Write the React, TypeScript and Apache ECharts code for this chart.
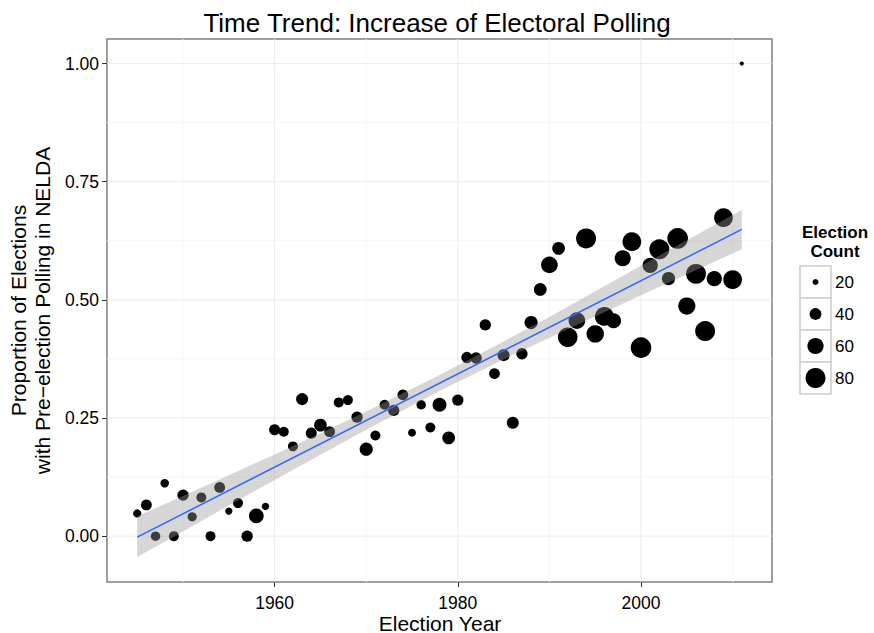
import React, { useEffect, useRef } from 'react';
import * as echarts from 'echarts';

const years = [
  1945, 1946, 1947, 1948, 1949, 1950, 1951, 1952, 1953, 1954, 1955, 1956, 1957, 1958, 1959,
  1960, 1961, 1962, 1963, 1964, 1965, 1966, 1967, 1968, 1969, 1970, 1971, 1972, 1973, 1974,
  1975, 1976, 1977, 1978, 1979, 1980, 1981, 1982, 1983, 1984, 1985, 1986, 1987, 1988, 1989,
  1990, 1991, 1992, 1993, 1994, 1995, 1996, 1997, 1998, 1999, 2000, 2001, 2002, 2003, 2004,
  2005, 2006, 2007, 2008, 2009, 2010, 2011,
];
const proportions = [
  0.048, 0.066, 0.0, 0.112, 0.0, 0.087, 0.041, 0.082, 0.0, 0.103, 0.053, 0.07, 0.0, 0.043, 0.063,
  0.225, 0.221, 0.19, 0.29, 0.218, 0.235, 0.221, 0.283, 0.288, 0.252, 0.184, 0.213, 0.278, 0.266, 0.299,
  0.219, 0.278, 0.23, 0.278, 0.208, 0.288, 0.378, 0.377, 0.447, 0.344, 0.383, 0.24, 0.386, 0.452, 0.522,
  0.574, 0.609, 0.421, 0.456, 0.63, 0.428, 0.465, 0.456, 0.588, 0.623, 0.399, 0.573, 0.607, 0.545, 0.63,
  0.487, 0.555, 0.434, 0.545, 0.674, 0.543, 1.0,
];
const electionCounts = [
  27, 36, 31, 28, 33, 38, 30, 33, 33, 36, 24, 33, 38, 53, 24,
  37, 33, 33, 41, 37, 44, 36, 33, 33, 38, 46, 33, 33, 38, 36,
  26, 31, 33, 49, 44, 38, 38, 38, 38, 36, 41, 41, 38, 46, 44,
  62, 44, 78, 62, 80, 66, 74, 54, 59, 73, 84, 55, 80, 46, 84,
  65, 80, 80, 55, 73, 73, 15,
];

const fitYears = [1945, 2011];
const fitValues = [-0.002, 0.649];
const ribbonYears = [1945, 1950, 1955, 1960, 1965, 1970, 1978, 1985, 1990, 1995, 2000, 2005, 2011];
const ribbonLower = [-0.044, 0.01, 0.065, 0.119, 0.172, 0.225, 0.307, 0.374, 0.42, 0.465, 0.51, 0.554, 0.607];
const ribbonUpper = [0.042, 0.085, 0.129, 0.173, 0.218, 0.264, 0.341, 0.412, 0.464, 0.518, 0.572, 0.626, 0.69];

const xMajorTicks = [1960, 1980, 2000];
const xMinorTicks = [1950, 1970, 1990, 2010];
const yMajorTicks = [0, 0.25, 0.5, 0.75, 1.0];
const yMinorTicks = [0.125, 0.375, 0.625, 0.875];
const legendCounts = [20, 40, 60, 80];

const FONT = '"Liberation Sans", Arial, Helvetica, sans-serif';

function pointDiameter(count: number): number {
  return Math.max(3, 3.13 * Math.sqrt(count) - 8);
}

function gridLineSeries(values: number[], vertical: boolean, color: string, width: number) {
  return {
    type: 'custom',
    silent: true,
    z: 0,
    data: values.map((v) => (vertical ? [v, 0.5] : [1980, v])),
    renderItem: (params: any, api: any) => {
      const cs = params.coordSys;
      const p = api.coord([api.value(0), api.value(1)]);
      const shape = vertical
        ? { x1: p[0], y1: cs.y, x2: p[0], y2: cs.y + cs.height }
        : { x1: cs.x, y1: p[1], x2: cs.x + cs.width, y2: p[1] };
      return { type: 'line', shape, style: { stroke: color, lineWidth: width } };
    },
  };
}

export default function App() {
  const ref = useRef<HTMLDivElement>(null);

  useEffect(() => {
    if (!ref.current) return;
    const chart = echarts.init(ref.current, undefined, { renderer: 'svg' });

    const scatterData = years.map((y, i) => [y, proportions[i], electionCounts[i]]);
    const fitData = fitYears.map((y, i) => [y, fitValues[i]]);
    const ribbonData = ribbonYears.map((y, i) => [y, ribbonLower[i], ribbonUpper[i]]);

    const legendLeft = 800;
    const legendTop = 266;
    const keySize = 32;
    const graphics: any[] = [
      {
        type: 'text',
        x: 440,
        y: 623,
        style: {
          text: 'Election Year',
          fontSize: 21,
          fontFamily: FONT,
          fill: '#000',
          align: 'center',
          verticalAlign: 'middle',
        },
      },
      {
        type: 'text',
        x: 835,
        y: 223,
        style: {
          text: 'Election\nCount',
          fontSize: 17,
          fontWeight: 'bold',
          fontFamily: FONT,
          fill: '#000',
          align: 'center',
          lineHeight: 19,
        },
      },
    ];
    legendCounts.forEach((c, i) => {
      const y0 = legendTop + i * keySize;
      graphics.push({
        type: 'rect',
        shape: { x: legendLeft, y: y0, width: 31, height: keySize },
        style: { fill: '#fff', stroke: '#cccccc', lineWidth: 1.5 },
      });
      graphics.push({
        type: 'circle',
        shape: { cx: legendLeft + 15.5, cy: y0 + keySize / 2, r: pointDiameter(c) / 2 },
        style: { fill: '#000' },
      });
      graphics.push({
        type: 'text',
        x: legendLeft + 35,
        y: y0 + keySize / 2,
        style: {
          text: String(c),
          fontSize: 17,
          fontFamily: FONT,
          fill: '#000',
          verticalAlign: 'middle',
          align: 'left',
        },
      });
    });

    chart.setOption({
      animation: false,
      backgroundColor: '#fff',
      textStyle: { fontFamily: FONT },
      title: {
        text: 'Time Trend: Increase of Electoral Polling',
        left: 'center',
        top: 5,
        textStyle: { fontSize: 26, fontWeight: 'normal', color: '#000', fontFamily: FONT },
      },
      grid: {
        left: 107,
        top: 39,
        width: 665,
        height: 543,
        outerBoundsMode: 'none',
        containLabel: false,
        show: true,
        borderColor: '#7f7f7f',
        borderWidth: 1.5,
        backgroundColor: '#fff',
      },
      xAxis: {
        type: 'value',
        min: 1941.7,
        max: 2014.3,
        axisLine: { show: false, onZero: false },
        splitLine: { show: false },
        axisTick: {
          show: true,
          customValues: xMajorTicks,
          length: 5,
          lineStyle: { color: '#333', width: 1 },
        },
        axisLabel: {
          customValues: xMajorTicks,
          fontSize: 17.5,
          color: '#000',
          margin: 12,
          fontFamily: FONT,
          formatter: (v: number) => String(v),
        },
      },
      yAxis: {
        type: 'value',
        min: -0.097,
        max: 1.052,
        axisLine: { show: false, onZero: false },
        splitLine: { show: false },
        axisTick: {
          show: true,
          customValues: yMajorTicks,
          length: 5,
          lineStyle: { color: '#333', width: 1 },
        },
        axisLabel: {
          customValues: yMajorTicks,
          fontSize: 17.5,
          color: '#000',
          margin: 8,
          fontFamily: FONT,
          formatter: (v: number) => v.toFixed(2),
        },
        name: 'Proportion of Elections\nwith Pre\u2212election Polling in NELDA',
        nameLocation: 'middle',
        nameGap: 50,
        nameTextStyle: { fontSize: 21, color: '#000', fontFamily: FONT, lineHeight: 24 },
      },
      graphic: graphics,
      series: [
        gridLineSeries(xMinorTicks, true, '#f5f5f5', 1),
        gridLineSeries(yMinorTicks, false, '#f5f5f5', 1),
        gridLineSeries(xMajorTicks, true, '#ebebeb', 1),
        gridLineSeries(yMajorTicks, false, '#ebebeb', 1),
        {
          type: 'scatter',
          z: 2,
          data: scatterData,
          symbol: 'circle',
          symbolSize: (val: number[]) => pointDiameter(val[2]),
          itemStyle: { color: '#000', opacity: 1 },
          silent: true,
        },
        {
          type: 'custom',
          z: 3,
          silent: true,
          data: ribbonData,
          encode: { x: 0, y: [1, 2] },
          renderItem: (params: any, api: any) => {
            if (params.dataIndex !== 0) return { type: 'group', children: [] };
            const pts: number[][] = [];
            for (let i = 0; i < ribbonYears.length; i++) {
              pts.push(api.coord([ribbonYears[i], ribbonUpper[i]]));
            }
            for (let i = ribbonYears.length - 1; i >= 0; i--) {
              pts.push(api.coord([ribbonYears[i], ribbonLower[i]]));
            }
            return {
              type: 'polygon',
              shape: { points: pts },
              style: { fill: 'rgba(153,153,153,0.4)' },
            };
          },
        },
        {
          type: 'line',
          z: 4,
          data: fitData,
          symbol: 'none',
          silent: true,
          lineStyle: { color: '#3366FF', width: 1.5 },
        },
      ],
    });

    return () => chart.dispose();
  }, []);

  return (
    <div
      ref={ref}
      style={{ position: 'fixed', left: 0, top: 0, width: 874, height: 633 }}
    />
  );
}
